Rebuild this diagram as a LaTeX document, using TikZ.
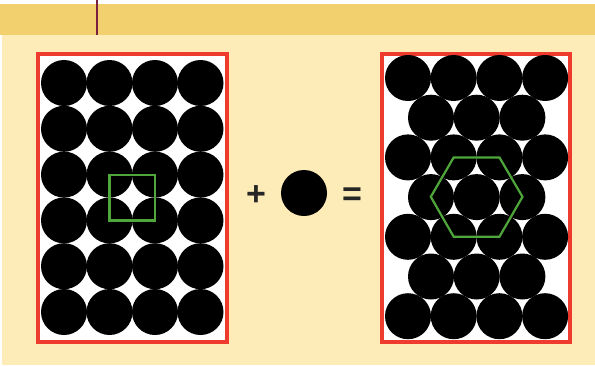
\documentclass[tikz,border=0pt]{standalone}
\usepackage{fontspec}
\setsansfont{Liberation Sans}
\usetikzlibrary{calc}
\definecolor{band}{HTML}{F2D06D}
\definecolor{paper}{HTML}{FDEBB8}
\definecolor{frame}{HTML}{EE3B2E}
\definecolor{cell}{HTML}{4FA63A}
\definecolor{rule}{HTML}{7A1F3D}
\tikzset{ball/.style={fill=black},box/.style={draw=frame,fill=white,line width=4pt},cellline/.style={draw=cell,line width=2.2pt,line join=miter},sym/.style={font=\sffamily\bfseries\fontsize{34}{34}\selectfont,text=black!85,inner sep=0pt,anchor=base}}

\begin{document}
\begin{tikzpicture}[x=1pt,y=-1pt]
\useasboundingbox (0,0) rectangle (595,365);
\fill[paper] (2,35) rectangle (595,365);
\fill[band] (0,3.5) rectangle (595,35);
\draw[rule,line width=2pt] (97,0) -- (97,35);
% square packing
\draw[box] (37.5,54) rectangle (227,342);
\foreach \i in {0,...,3}{\foreach \j in {0,...,5}{
\fill[ball] ({64+45.5*\i},{83+45.8*\j}) circle (23);}}
\draw[cellline] (109.5,174.6) rectangle (155,220.4);
% plus one ball
\node[sym] (plus) at (256,205) {+};
\fill[ball] (304,193) circle (23);
\node[sym] (eq) at (352,205) {=};
% hexagonal packing
\draw[box] (382,53.5) rectangle (570,342);
\foreach \j in {0,2,4,6}{\foreach \i in {0,...,3}{
\fill[ball] ({408+45.7*\i},{78+39.7*\j}) circle (23);}}
\foreach \j in {1,3,5}{\foreach \i in {0,...,2}{
\fill[ball] ({431+45.7*\i},{78+39.7*\j}) circle (23);}}
\draw[cellline] (453.7,157.4) -- (499.4,157.4) -- (522.5,196.8) -- (499.4,236.8) -- (453.7,236.8) -- (430.8,196.8) -- cycle;
\end{tikzpicture}
\end{document}
